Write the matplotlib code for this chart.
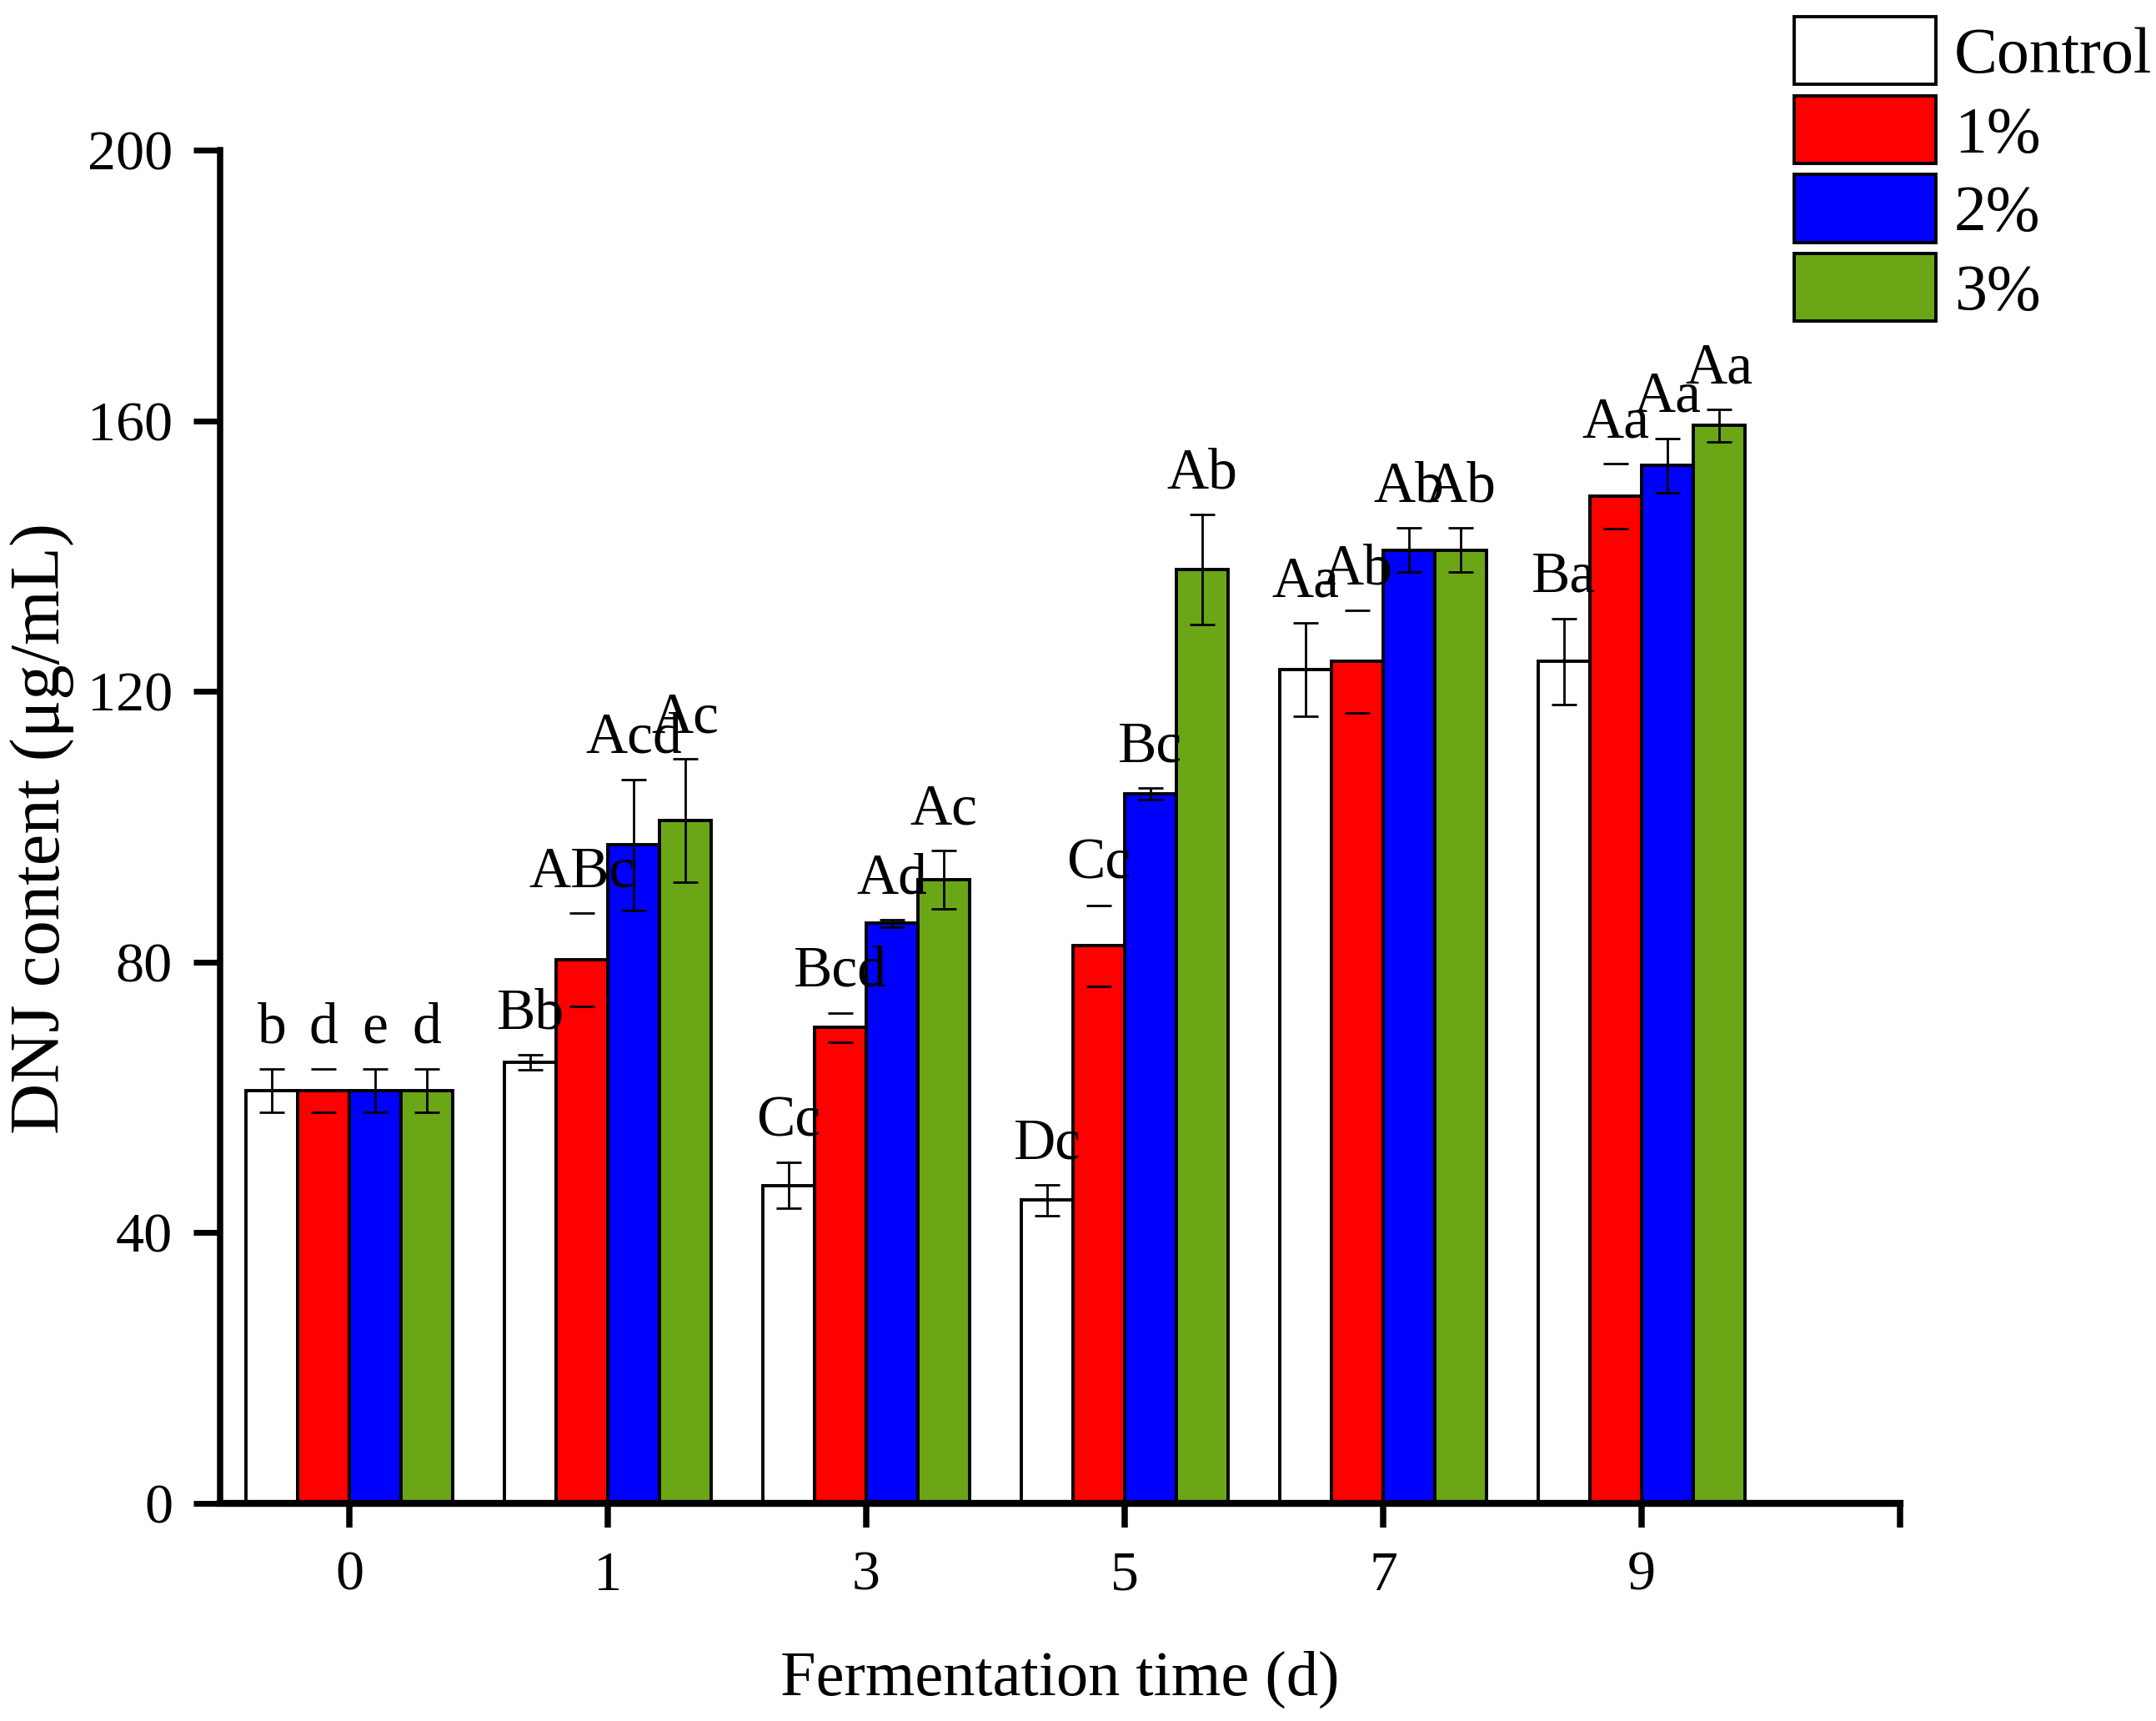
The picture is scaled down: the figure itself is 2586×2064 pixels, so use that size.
import matplotlib
matplotlib.use("Agg")
import matplotlib.pyplot as plt
import numpy as np
from matplotlib.patches import Patch

plt.rcParams['font.family'] = ['Liberation Serif', 'DejaVu Serif']
plt.rcParams['mathtext.fontset'] = 'stix'

# ---------------- data ----------------
days = ['0', '1', '3', '5', '7', '9']
series_names = ['Control', '1%', '2%', '3%']

control = [61.0, 65.2, 47.0, 44.8, 123.2, 124.4]
control_err = [3.2, 1.1, 3.4, 2.3, 6.9, 6.4]
p1 = [61.0, 80.3, 70.3, 82.4, 124.4, 148.8]
p1_err = [3.2, 6.9, 2.2, 6.0, 7.6, 4.8]
p2 = [61.0, 97.3, 85.7, 104.9, 140.9, 153.4]
p2_err = [3.2, 9.7, 0.5, 0.85, 3.3, 4.0]
p3 = [61.0, 100.9, 92.2, 138.0, 140.9, 159.3]
p3_err = [3.2, 9.1, 4.3, 8.1, 3.3, 2.4]

control_lab = ['b', 'Bb', 'Cc', 'Dc', 'Aa', 'Ba']
p1_lab = ['d', 'ABc', 'Bcd', 'Cc', 'Ab', 'Aa']
p2_lab = ['e', 'Acd', 'Ad', 'Bc', 'Ab', 'Aa']
p3_lab = ['d', 'Ac', 'Ac', 'Ab', 'Ab', 'Aa']

yticks = [0, 40, 80, 120, 160, 200]

# ---------------- style ----------------
colors = ['#FFFFFF', '#FF0000', '#0000FF', '#6BA617']
values = [control, p1, p2, p3]
errors = [control_err, p1_err, p2_err, p3_err]
labels = [control_lab, p1_lab, p2_lab, p3_lab]
show_eline = [True, False, True, True]

fig = plt.figure(figsize=(12.93, 10.32), dpi=200)
ax = fig.add_axes([0.1021, 0.1265, 0.8813 - 0.1021, 0.9128 - 0.1265])

x = np.arange(len(days))
w = 0.2
offsets = [-1.5, -0.5, 0.5, 1.5]

for k in range(4):
    xs = x + offsets[k] * w
    ax.bar(xs, values[k], width=w, color=colors[k], edgecolor='black',
           linewidth=1.4, zorder=2)
    ax.errorbar(xs, values[k], yerr=errors[k], fmt='none', ecolor='black',
                elinewidth=1.0 if show_eline[k] else 0.0, capsize=5.4,
                capthick=1.0, zorder=3)
    for xi, v, e, lab in zip(xs, values[k], errors[k], labels[k]):
        ax.annotate(lab, (xi, v + e), xytext=(0, 6), textcoords='offset points',
                    ha='center', va='bottom', fontsize=25, zorder=4)

ax.set_xlim(-0.5, 6.0)
ax.set_ylim(0, 200)
ax.set_xticks(list(x) + [6])
ax.set_xticklabels(days + [''])
ax.set_yticks(yticks)

for s in ['top', 'right']:
    ax.spines[s].set_visible(False)
ax.spines['left'].set_linewidth(2.7)
ax.spines['bottom'].set_linewidth(3.0)
ax.tick_params(axis='y', direction='out', length=11.5, width=2.5,
               labelsize=24.5, pad=9)
ax.tick_params(axis='x', direction='out', length=10.5, width=2.7,
               labelsize=24.5, pad=10)

ax.set_ylabel('DNJ content (μg/mL)', fontsize=30.5, va='center')
ax.yaxis.set_label_coords(-0.106, 0.4985)
ax.set_xlabel('Fermentation time (d)', fontsize=27.5, va='center')
ax.xaxis.set_label_coords(0.5, -0.1306)

handles = [Patch(facecolor=c, edgecolor='black', linewidth=1.4) for c in colors]
fig.legend(handles, series_names, loc='upper left',
           bbox_to_anchor=(0.832, 0.9903), frameon=False, fontsize=28,
           handlelength=2.19, handleheight=1.23, labelspacing=0.14,
           handletextpad=0.28, borderpad=0, borderaxespad=0)

fig.savefig('out.png', dpi=200)
